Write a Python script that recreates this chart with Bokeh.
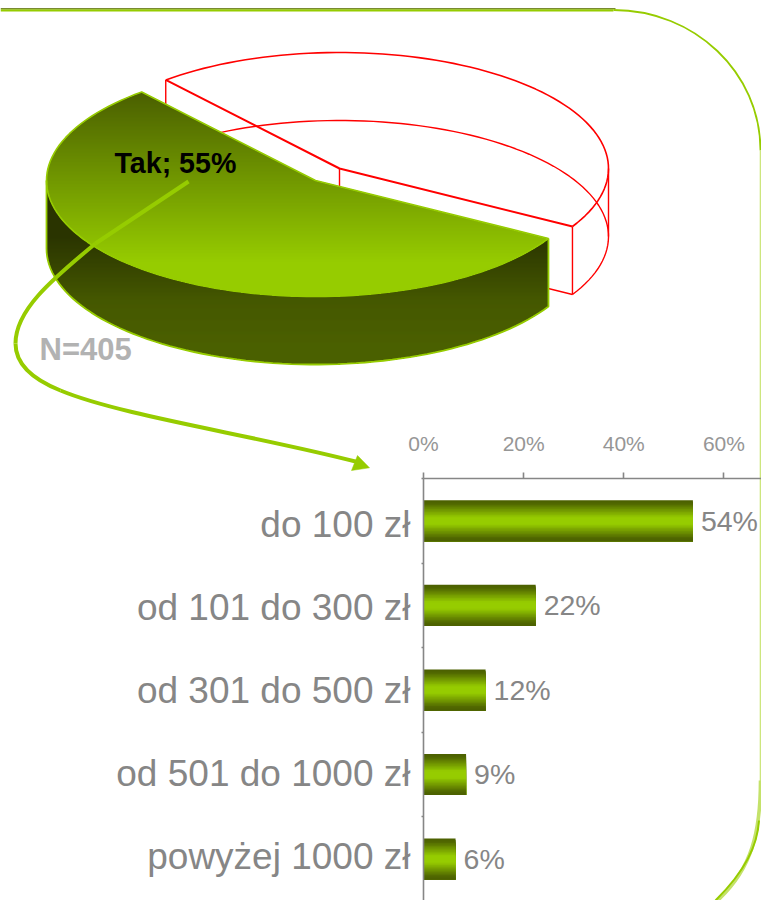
import numpy as np
from bokeh.core.properties import value
from bokeh.embed import file_html
from bokeh.models import FixedTicker, LinearAxis, Range1d
from bokeh.plotting import figure
from bokeh.resources import INLINE

# ---- data ----
pie_labels = ["Tak", "Nie"]
pie_values = [55.49, 44.51]
pie_label_text = "Tak; 55%"
sample_text = "N=405"

categories = ["do 100 zł", "od 101 do 300 zł", "od 301 do 500 zł", "od 501 do 1000 zł", "powyżej 1000 zł"]
category_label_rows = [0.044, 1.029, 2.006, 2.989, 3.975]
bar_values = [53.8, 22.4, 12.4, 8.5, 6.4]
bar_labels = ["54%", "22%", "12%", "9%", "6%"]
x_ticks = [0, 20, 40, 60]
x_tick_labels = ["0%", "20%", "40%", "60%"]

# ---- style ----
FONT = "Liberation Sans"
GREEN = "#96cc00"
DARK = "#4b6000"
RED = "#ff0000"
GREY = "#868686"


def hex2rgb(h):
    return np.array([int(h[i:i + 2], 16) for i in (1, 3, 5)], dtype=float)


def ramp(y, stops):
    ys = [s[0] for s in stops]
    rgb = np.array([hex2rgb(s[1]) for s in stops])
    c = [np.interp(y, ys, rgb[:, i]) for i in range(3)]
    return "#%02x%02x%02x" % tuple(int(round(v)) for v in c)


def scan(xs, ys, stops, step=1.0):
    """Fill a polygon with a vertical colour ramp, as horizontal strips."""
    xs = np.asarray(xs)
    ys = np.asarray(ys)
    xn, yn = np.roll(xs, -1), np.roll(ys, -1)
    L, R, T, B, C = [], [], [], [], []
    for y in np.arange(np.floor(ys.min()), np.ceil(ys.max()), step):
        ym = y + step / 2
        hit = ((ys <= ym) & (yn > ym)) | ((yn <= ym) & (ys > ym))
        cross = np.sort(xs[hit] + (ym - ys[hit]) / (yn[hit] - ys[hit]) * (xn[hit] - xs[hit]))
        for a, b in zip(cross[::2], cross[1::2]):
            L.append(a)
            R.append(b)
            T.append(y)
            B.append(y + step + 0.6)
            C.append(ramp(ym, stops))
    return dict(left=L, right=R, top=T, bottom=B, fill_color=C)


# ---- upper canvas: pie, call-out, frame ----
p1 = figure(width=761, height=900, x_range=Range1d(0, 761), y_range=Range1d(900, 0),
            x_axis_type=None, y_axis_type=None, toolbar_location=None, output_backend="svg",
            min_border=0, outline_line_color=None, background_fill_color=None, border_fill_color=None)
p1.grid.visible = False

CX, CY, A, B, H = 315.0, 180.0, 269.0, 116.0, 68.0
DX, DY = 24.0, -12.0
T_END = -30.0
sweep = 360.0 * pie_values[0] / sum(pie_values)
T_START = T_END + 360.0 - sweep   # angle where the "Tak" slice starts


def arc(t0, t1, cx=CX, cy=CY):
    t = np.radians(np.linspace(t0, t1, int(abs(t1 - t0) / 2) + 2))
    return cx + A * np.cos(t), cy - B * np.sin(t)


# the "Nie" slice: a red wireframe, pulled out of the pie
rx, ry = arc(T_END, T_START, CX + DX, CY + DY)
rcx, rcy = CX + DX, CY + DY
p1.line(rx, ry, line_color=RED, line_width=1.6)
p1.line(rx, ry + H, line_color=RED, line_width=1.4)
p1.line([rx[0], rcx, rx[-1]], [ry[0], rcy, ry[-1]], line_color=RED, line_width=2)
p1.line([rx[0], rcx, rx[-1]], [ry[0] + H, rcy + H, ry[-1] + H], line_color=RED, line_width=1.4)
p1.segment([rx[0], rcx, rx[-1], rcx + A], [ry[0], rcy, ry[-1], rcy],
           [rx[0], rcx, rx[-1], rcx + A], [ry[0] + H, rcy + H, ry[-1] + H, rcy + H],
           line_color=RED, line_width=1.4)

# the "Tak" slice: side wall
sx, sy = arc(180, 360 + T_END)
wall_x = np.concatenate([sx, sx[::-1]])
wall_y = np.concatenate([sy, sy[::-1] + H])
wall_stops = [(235, "#2a3400"), (300, "#455800"), (345, DARK)]
p1.quad(**scan(wall_x, wall_y, wall_stops), line_color=None)

# the "Tak" slice: top face
tx, ty = arc(T_START, 360 + T_END)
top_x = np.concatenate([[CX], tx])
top_y = np.concatenate([[CY], ty])
top_stops = [(91, "#4a5f00"), (262, GREEN)]
p1.quad(**scan(top_x, top_y, top_stops), line_color=None)

# the slice's green outlines
p1.line(np.append(top_x, CX), np.append(top_y, CY), line_color=GREEN, line_width=1.6)
p1.line(np.concatenate([[sx[0]], sx, [sx[-1]]]),
        np.concatenate([[sy[0]], sy + H, [sy[-1]]]), line_color=GREEN, line_width=1.8)

# call-out arrow
p1.line([188, 95], [181, 243], line_color=GREEN, line_width=4)
p1.bezier([95, 15, 60], [243, 343, 390], [15, 60, 357], [343, 390, 461.5],
          [50, 15, 120], [280, 365, 415], [15, 35, 250], [310, 380, 434],
          line_color=GREEN, line_width=4)
p1.patch([369, 357, 351], [467.3, 455, 470], fill_color=GREEN, line_color=GREEN, line_width=0.5)

# the rounded frame round the slide
p1.line([0, 613], [9.9, 9.9], line_color=GREEN, line_width=2.4)
p1.line([0, 615], [8.2, 8.2], line_color="#5a7000", line_width=1)
p1.bezier([613], [9.5], [760], [150], [694], [9.5], [760], [72], line_color=GREEN, line_width=1.8)
p1.line([760, 760], [150, 790], line_color="#cde67e", line_width=1.6)
p1.bezier([760], [780], [717], [900], [760], [830], [752], [868], line_color="#c4e26a", line_width=3.6)
p1.bezier([758.5], [820], [715], [900], [757], [845], [745], [870], line_color=GREEN, line_width=2)

# texts
p1.text([114], [162.5], text=[pie_label_text], text_font=value(FONT), text_font_style="bold",
        text_font_size="28.6px", text_color="#000000", text_baseline="middle")
p1.text([39], [348.5], text=[sample_text], text_font=value(FONT), text_font_style="bold",
        text_font_size="31px", text_color="#b2b2b2", text_baseline="middle")

# ---- lower canvas: the bar chart with its own axes, laid over the upper one ----
ys = list(range(len(categories)))
p2 = figure(frame_width=338, frame_height=422, x_range=Range1d(0, 67.5), y_range=Range1d(4.49, -0.5),
            x_axis_location=None, y_axis_location=None, toolbar_location=None, output_backend="svg",
            min_border_left=423, min_border_right=0, min_border_top=54, min_border_bottom=0,
            outline_line_color=None, background_fill_color=None, border_fill_color=None)
p2.grid.visible = False

top_axis = LinearAxis(ticker=FixedTicker(ticks=x_ticks),
                      major_label_overrides={t: s for t, s in zip(x_ticks, x_tick_labels)},
                      axis_line_color=GREY, axis_line_width=1.6,
                      major_tick_line_color=GREY, major_tick_line_width=1.6,
                      major_tick_in=0, major_tick_out=6, minor_tick_line_color=None,
                      major_label_text_font=FONT, major_label_text_font_size="21px",
                      major_label_text_color="#969696", major_label_standoff=18)
p2.add_layout(top_axis, "above")

boundaries = [i + 0.5 for i in ys[:-1]] + [-0.5]
left_axis = LinearAxis(ticker=FixedTicker(ticks=category_label_rows, minor_ticks=boundaries),
                       major_label_overrides={i: c for i, c in zip(category_label_rows, categories)},
                       axis_line_color=GREY, axis_line_width=1.6,
                       major_tick_line_color=None, major_tick_in=0, major_tick_out=0,
                       minor_tick_line_color=GREY, minor_tick_line_width=1.4,
                       minor_tick_in=0, minor_tick_out=2,
                       major_label_text_font=FONT, major_label_text_font_size="37px",
                       major_label_text_color=GREY, major_label_standoff=11,
                       major_label_orientation="horizontal")
p2.add_layout(left_axis, "left")

BAR_H = 0.485
STRIPS = 28
bar_stops = [(0.0, DARK), (0.08, "#506600"), (0.42, GREEN), (0.58, GREEN), (0.92, "#506600"), (1.0, DARK)]
for i, v in zip(ys, bar_values):
    edges = np.linspace(i - BAR_H / 2, i + BAR_H / 2, STRIPS + 1)
    fr = (np.arange(STRIPS) + 0.5) / STRIPS
    p2.quad(left=0, right=v, top=edges[:-1], bottom=i + BAR_H / 2,
            fill_color=[ramp(f, bar_stops) for f in fr], line_color=None)

p2.text(bar_values, ys, text=bar_labels, x_offset=8, text_font=value(FONT), text_font_size="28.5px",
        text_color=GREY, text_baseline="middle")

p2.margin = (-476, 0, 0, 0)
open("out.html", "w").write(file_html([p1, p2], INLINE))
